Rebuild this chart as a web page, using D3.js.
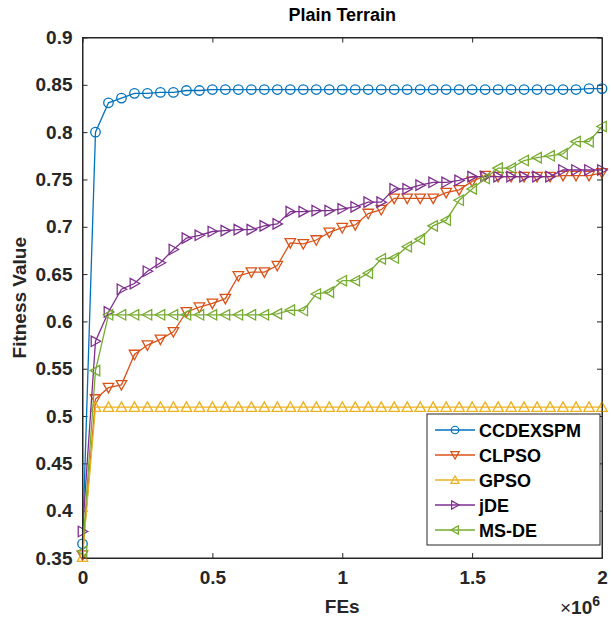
<!DOCTYPE html>
<html>
<head>
<meta charset="utf-8">
<script src="https://cdn.jsdelivr.net/npm/d3@7"></script>
<style>
  html, body { margin: 0; padding: 0; background: #fff; }
  svg { display: block; font-family: "Liberation Sans", Arial, sans-serif; }
</style>
</head>
<body>
<svg id="chart" width="611" height="622"></svg>
<script>
// ---- data ----
const seriesNames = ["CCDEXSPM", "CLPSO", "GPSO", "jDE", "MS-DE"];
const fes = d3.range(0, 41).map(i => i * 50000);
const ccdexspm = [0.365,0.800,0.831,0.836,0.841,0.841,0.842,0.842,0.844,0.844,
  0.845,0.845,0.845,0.845,0.845,0.845,0.845,0.845,0.845,0.845,
  0.845,0.845,0.845,0.845,0.845,0.845,0.845,0.845,0.845,0.845,
  0.845,0.845,0.845,0.845,0.845,0.845,0.845,0.845,0.845,0.846,0.846];
const clpso = [0.353,0.518,0.530,0.533,0.565,0.575,0.581,0.589,0.610,0.615,
  0.619,0.624,0.648,0.652,0.652,0.659,0.683,0.682,0.686,0.694,
  0.699,0.702,0.714,0.718,0.730,0.730,0.730,0.730,0.736,0.739,
  0.748,0.754,0.753,0.753,0.753,0.753,0.753,0.754,0.754,0.754,0.757];
const gpso = [0.351,0.5095,0.5095,0.5095,0.5095,0.5095,0.5095,0.5095,0.5095,0.5095,
  0.5095,0.5095,0.5095,0.5095,0.5095,0.5095,0.5095,0.5095,0.5095,0.5095,
  0.5095,0.5095,0.5095,0.5095,0.5095,0.5095,0.5095,0.5095,0.5095,0.5095,
  0.5095,0.5095,0.5095,0.5095,0.5095,0.5095,0.5095,0.5095,0.5095,0.5095,0.5095];
const jde = [0.378,0.579,0.610,0.634,0.640,0.653,0.662,0.676,0.688,0.691,
  0.695,0.696,0.697,0.697,0.701,0.703,0.716,0.716,0.717,0.717,
  0.719,0.721,0.726,0.726,0.740,0.740,0.744,0.747,0.747,0.749,
  0.753,0.753,0.753,0.753,0.753,0.753,0.753,0.760,0.760,0.760,0.760];
const msde = [0.357,0.548,0.607,0.607,0.607,0.607,0.607,0.607,0.607,0.607,
  0.607,0.607,0.607,0.607,0.607,0.608,0.612,0.6115,0.629,0.631,
  0.643,0.643,0.651,0.666,0.667,0.679,0.687,0.701,0.707,0.728,
  0.740,0.751,0.762,0.762,0.770,0.773,0.775,0.777,0.790,0.790,0.806];
const xTicks = [0, 500000, 1000000, 1500000, 2000000];
const xTickLabels = ["0", "0.5", "1", "1.5", "2"];
const yTicks = [0.35,0.4,0.45,0.5,0.55,0.6,0.65,0.7,0.75,0.8,0.85,0.9];
const yTickLabels = ["0.35","0.4","0.45","0.5","0.55","0.6","0.65","0.7","0.75","0.8","0.85","0.9"];
const colors = ["#0072BD", "#D95319", "#EDB120", "#7E2F8E", "#77AC30"];
const markers = ["circle", "down", "up", "right", "left"];

const allSeries = [ccdexspm, clpso, gpso, jde, msde];

// ---- layout ----
const L = 82.5, T = 37.5, R = 602, B = 558;
const svg = d3.select("#chart");
const x = d3.scaleLinear().domain([0, 2000000]).range([L, R]);
const y = d3.scaleLinear().domain([0.35, 0.9]).range([B, T]);
const axisColor = "#262626";

// title
svg.append("text").attr("x", (L + R) / 2).attr("y", 21)
  .attr("text-anchor", "middle").attr("font-weight", "bold").attr("font-size", 18)
  .attr("fill", "#000").text("Plain Terrain");

// axes
const fmtX = (d, i) => xTickLabels[i];
const fmtY = (d, i) => yTickLabels[i];
const tickSize = 5;
function styleAxis(g) {
  g.selectAll("path.domain").attr("stroke", axisColor).attr("stroke-width", 1);
  g.selectAll(".tick line").attr("stroke", axisColor).attr("stroke-width", 1);
  g.selectAll(".tick text").attr("fill", axisColor).attr("font-weight", "bold")
    .attr("font-size", 19).attr("font-family", "Liberation Sans, Arial, sans-serif");
}
const gxB = svg.append("g").attr("transform", `translate(0,${B})`)
  .call(d3.axisBottom(x).tickValues(xTicks).tickFormat(fmtX).tickSizeInner(-tickSize).tickSizeOuter(0).tickPadding(13));
styleAxis(gxB);
const gxT = svg.append("g").attr("transform", `translate(0,${T})`)
  .call(d3.axisTop(x).tickValues(xTicks).tickFormat("").tickSizeInner(-tickSize).tickSizeOuter(0));
styleAxis(gxT);
const gyL = svg.append("g").attr("transform", `translate(${L},0)`)
  .call(d3.axisLeft(y).tickValues(yTicks).tickFormat(fmtY).tickSizeInner(-tickSize).tickSizeOuter(0).tickPadding(10));
styleAxis(gyL);
const gyR = svg.append("g").attr("transform", `translate(${R},0)`)
  .call(d3.axisRight(y).tickValues(yTicks).tickFormat("").tickSizeInner(-tickSize).tickSizeOuter(0));
styleAxis(gyR);

// axis labels
svg.append("text").attr("x", (L + R) / 2).attr("y", 613)
  .attr("text-anchor", "middle").attr("font-weight", "bold").attr("font-size", 19)
  .attr("fill", axisColor).text("FEs");
svg.append("text").attr("transform", `translate(26,${(T + B) / 2}) rotate(-90)`)
  .attr("text-anchor", "middle").attr("font-weight", "bold").attr("font-size", 19)
  .attr("fill", axisColor).text("Fitness Value");
const exp = svg.append("text").attr("x", 600).attr("y", 614).attr("text-anchor", "end")
  .attr("font-size", 19).attr("fill", axisColor);
exp.append("tspan").text("\u00d7");
exp.append("tspan").attr("font-weight", "bold").text("10");
exp.append("tspan").attr("dy", -8).attr("font-size", 14).attr("font-weight", "bold").text("6");

// marker symbol paths
function markerPath(type, s) {
  const h = s;
  switch (type) {
    case "circle": return d3.symbol(d3.symbolCircle, Math.PI * s * s * 0.25)();
    case "up": return `M0,${-h*0.55}L${h*0.55},${h*0.45}L${-h*0.55},${h*0.45}Z`;
    case "down": return `M0,${h*0.55}L${h*0.55},${-h*0.45}L${-h*0.55},${-h*0.45}Z`;
    case "right": return `M${h*0.55},0L${-h*0.45},${h*0.55}L${-h*0.45},${-h*0.55}Z`;
    case "left": return `M${-h*0.55},0L${h*0.45},${h*0.55}L${h*0.45},${-h*0.55}Z`;
  }
}

const line = d3.line().x((d, i) => x(fes[i])).y(d => y(d));
const plot = svg.append("g");
allSeries.forEach((vals, k) => {
  const g = plot.append("g");
  g.append("path").attr("d", line(vals)).attr("fill", "none")
    .attr("stroke", colors[k]).attr("stroke-width", 1.3);
  g.selectAll("path.m").data(vals).enter().append("path").attr("class", "m")
    .attr("transform", (d, i) => `translate(${x(fes[i])},${y(d)})`)
    .attr("d", markerPath(markers[k], 9.5))
    .attr("fill", "none").attr("stroke", colors[k]).attr("stroke-width", 1.3);
});

// box lines
svg.append("rect").attr("x", L).attr("y", T).attr("width", R - L).attr("height", B - T)
  .attr("fill", "none").attr("stroke", axisColor).attr("stroke-width", 1);

// legend
const lg = svg.append("g");
const lx = 427, ly = 414, lw = 173, lh = 131;
lg.append("rect").attr("x", lx).attr("y", ly).attr("width", lw).attr("height", lh)
  .attr("fill", "#fff").attr("stroke", axisColor).attr("stroke-width", 1);
seriesNames.forEach((name, k) => {
  const yy = ly + 16 + k * 25;
  lg.append("line").attr("x1", lx + 8).attr("x2", lx + 48).attr("y1", yy).attr("y2", yy)
    .attr("stroke", colors[k]).attr("stroke-width", 1.3);
  lg.append("path").attr("transform", `translate(${lx + 28},${yy})`)
    .attr("d", markerPath(markers[k], 7.5)).attr("fill", "none")
    .attr("stroke", colors[k]).attr("stroke-width", 1.2);
  lg.append("text").attr("x", lx + 52).attr("y", yy + 6.5).attr("font-weight", "bold")
    .attr("font-size", 18).attr("fill", "#000").text(name);
});
</script>
</body>
</html>
